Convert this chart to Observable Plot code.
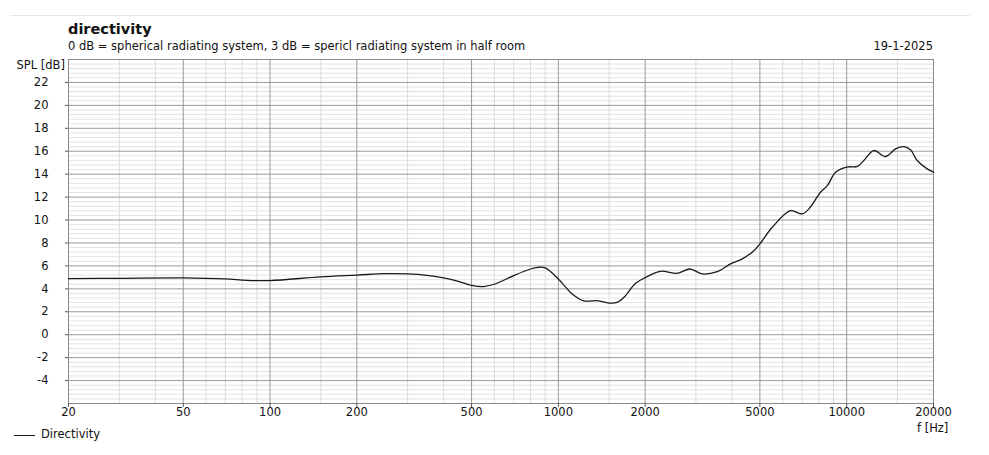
<!DOCTYPE html>
<html>
<head>
<meta charset="utf-8">
<script src="https://cdn.jsdelivr.net/npm/d3@7"></script>
<script src="https://cdn.jsdelivr.net/npm/@observablehq/plot@0.6"></script>
<style>
  html, body { margin: 0; padding: 0; background: #fff; }
  #wrap { position: relative; width: 989px; height: 455px; font-family: "DejaVu Sans", Verdana, sans-serif; color: #111; }
  #wrap svg { position: absolute; left: 0; top: 0; }
  .t { position: absolute; white-space: nowrap; line-height: 1; }
</style>
</head>
<body>
<div id="wrap"></div>
<script>
// ---- data ----
const freqs = [20, 30, 50, 70, 83, 100, 150, 200, 250, 300, 350, 400, 450, 500, 550, 600, 630, 700, 800, 850, 900, 1000, 1117, 1225, 1365, 1500, 1600, 1688, 1853, 2000, 2261, 2583, 2858, 3155, 3557, 3955, 4343, 4767, 5000, 5520, 6384, 7000, 7396, 8110, 8565, 9150, 10000, 10890, 11470, 12410, 13630, 14770, 15780, 16650, 17560, 19020, 20000];
const splDb = [4.89, 4.92, 4.95, 4.86, 4.74, 4.72, 5.05, 5.2, 5.32, 5.3, 5.18, 4.95, 4.65, 4.3, 4.2, 4.4, 4.62, 5.15, 5.73, 5.88, 5.82, 4.86, 3.55, 2.95, 2.97, 2.76, 2.82, 3.26, 4.48, 4.98, 5.53, 5.35, 5.73, 5.3, 5.5, 6.17, 6.61, 7.33, 7.92, 9.37, 10.82, 10.53, 10.97, 12.42, 13.0, 14.17, 14.62, 14.68, 15.19, 16.06, 15.54, 16.2, 16.4, 16.12, 15.19, 14.46, 14.17];
const xMajorTicks = [20, 50, 100, 200, 500, 1000, 2000, 5000, 10000, 20000];
const xTickLabels = ["20", "50", "100", "200", "500", "1000", "2000", "5000", "10000", "20000"];
const xMinorGrid = [30, 40, 60, 70, 80, 90, 150, 300, 400, 600, 700, 800, 900, 1500, 3000, 4000, 6000, 7000, 8000, 9000, 15000];
const yMajorTicks = [-4, -2, 0, 2, 4, 6, 8, 10, 12, 14, 16, 18, 20, 22];
const yTickLabels = ["-4", "-2", "0", "2", "4", "6", "8", "10", "12", "14", "16", "18", "20", "22"];
const yMinorGrid = d3.range(-5.6, 24, 0.4).map(v => +v.toFixed(1)).filter(v => Math.abs(v % 2) > 0.01 && Math.abs(Math.abs(v % 2) - 2) > 0.01);

const titleText = "directivity";
const subtitleText = "0 dB = spherical radiating system, 3 dB = spericl radiating system in half room";
const dateText = "19-1-2025";
const yLabel = "SPL [dB]";
const xLabel = "f [Hz]";
const seriesName = "Directivity";

const data = freqs.map((f, i) => ({f, v: splDb[i]}));
const xLab = xMajorTicks.map((f, i) => ({f, t: xTickLabels[i]}));
const yLab = yMajorTicks.map((v, i) => ({v, t: yTickLabels[i]}));

const FS = "11.5px";

const chart = Plot.plot({
  width: 989,
  height: 455,
  marginLeft: 68,
  marginRight: 56,
  marginTop: 59,
  marginBottom: 52,
  style: {fontFamily: "DejaVu Sans, Verdana, sans-serif", fontSize: FS, color: "#111", background: "transparent"},
  x: {type: "log", domain: [20, 20000], label: null},
  y: {domain: [-6, 24], label: null},
  marks: [
    Plot.ruleY(yMinorGrid, {stroke: "#e2e2e2", strokeWidth: 1}),
    Plot.ruleX(xMinorGrid, {stroke: "#dcdcdc", strokeWidth: 1}),
    Plot.ruleY(yMajorTicks, {stroke: "#9a9a9a", strokeWidth: 1}),
    Plot.ruleX(xMajorTicks.slice(1, -1), {stroke: "#9a9a9a", strokeWidth: 1}),
    Plot.frame({stroke: "#8a8a8a", strokeWidth: 1}),
    Plot.axisX({ticks: xMajorTicks, tickFormat: () => "", tickSize: 4, stroke: "#555", label: null}),
    Plot.axisY({ticks: yMajorTicks, tickFormat: () => "", tickSize: 3, stroke: "#555", label: null}),
    Plot.text(xLab, {x: "f", text: "t", frameAnchor: "bottom", dy: 12, fill: "#111"}),
    Plot.text(yLab, {y: "v", text: "t", frameAnchor: "left", dx: -20, textAnchor: "end", fill: "#111"}),
    Plot.line(data, {x: "f", y: "v", stroke: "#1a1a1a", strokeWidth: 1.3, curve: "catmull-rom"})
  ]
});

const wrap = document.getElementById("wrap");
wrap.appendChild(chart);

function addText(txt, css) {
  const d = document.createElement("div");
  d.className = "t";
  d.textContent = txt;
  Object.assign(d.style, css);
  wrap.appendChild(d);
  return d;
}
const sep = document.createElement("div");
Object.assign(sep.style, {position: "absolute", left: "10px", top: "15px", width: "960px", height: "1px", background: "#e6e6e6"});
wrap.appendChild(sep);

addText(titleText, {left: "68px", top: "22px", fontSize: "14.5px", fontWeight: "bold"});
addText(subtitleText, {left: "68px", top: "41px", fontSize: FS});
addText(dateText, {right: "56px", top: "41px", fontSize: FS});
addText(yLabel, {right: "924px", top: "60px", fontSize: FS});
addText(xLabel, {left: "917px", top: "423px", fontSize: FS});
const lg = document.createElement("div");
Object.assign(lg.style, {position: "absolute", left: "14px", top: "435px", width: "21px", height: "1.3px", background: "#1a1a1a"});
wrap.appendChild(lg);
addText(seriesName, {left: "41px", top: "429px", fontSize: FS});
</script>
</body>
</html>
